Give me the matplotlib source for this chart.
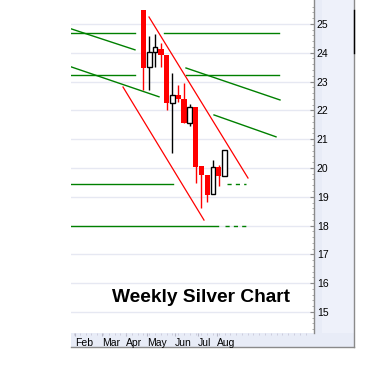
import matplotlib
matplotlib.use("Agg")
import matplotlib.pyplot as plt
from matplotlib.patches import Rectangle
import numpy as np

plt.rcParams['font.family'] = ['Liberation Sans', 'DejaVu Sans']

# ---- data (week index, prices) ----
weeks = list(range(15))
opens  = [25.49, 23.50, 24.03, 24.13, 23.92, 22.26, 22.53, 22.40, 21.56, 22.12, 20.07, 19.76, 19.10, 20.03, 19.72]
highs  = [25.49, 24.58, 24.65, 24.34, 23.92, 23.30, 22.88, 22.95, 22.22, 22.12, 20.07, 19.76, 20.28, 20.10, 20.63]
lows   = [22.71, 22.71, 23.50, 23.50, 22.01, 20.52, 22.30, 21.56, 21.46, 19.48, 18.61, 18.82, 19.10, 19.38, 19.72]
closes = [23.47, 24.03, 24.20, 23.92, 22.26, 22.53, 22.40, 21.56, 22.12, 20.03, 19.76, 19.06, 20.03, 19.72, 20.63]

month_labels = ["Feb", "Mar", "Apr", "May", "Jun", "Jul", "Aug"]
month_pos = [-11.83, -7.17, -3.02, 0.60, 5.44, 9.41, 12.69]
price_ticks = [15, 16, 17, 18, 19, 20, 21, 22, 23, 24, 25]

# horizontal support / resistance levels: (level, [(x0, x1), ...], style)
green_levels = [
    (24.69, [(-12.52, -1.47), (3.54, 23.4)], '-'),
    (23.23, [(-12.52, -1.47), (7.34, 23.4)], '-'),
    (19.44, [(-12.52, 5.09)], '-'),
    (19.44, [(14.42, 17.7)], '--'),
    (17.99, [(-12.52, 12.87)], '-'),
    (17.99, [(14.08, 17.88)], '--'),
]
# descending green trend lines: list of segments ((x0, p0), (x1, p1))
green_trends = [
    ((-12.52, 24.83), (-1.47, 24.10)),
    ((7.34, 23.47), (23.58, 22.36)),
    ((-12.52, 23.51), (2.68, 22.47)),
    ((12.18, 21.84), (22.89, 21.08)),
]
# red channel lines
red_channel = [
    ((0.95, 25.24), (18.05, 19.65)),
    ((-3.54, 22.81), (10.45, 18.19)),
]

W, H = 384, 369
fig = plt.figure(figsize=(W / 100, H / 100), dpi=100)
fig.patch.set_facecolor('white')

def fx(px): return px / W
def fy(py): return 1 - py / H

# background strips (right axis + bottom axis)
bg = '#E8ECF7'
fig.patches.append(Rectangle((fx(314), fy(347)), fx(354) - fx(314), fy(0) - fy(347),
                             transform=fig.transFigure, facecolor=bg, edgecolor='none', zorder=0))
fig.patches.append(Rectangle((fx(71), fy(347)), fx(354) - fx(71), fy(333) - fy(347),
                             transform=fig.transFigure, facecolor=bg, edgecolor='none', zorder=0))
fig.patches.append(Rectangle((fx(322), fy(333)), fx(354) - fx(322), fy(0) - fy(333),
                             transform=fig.transFigure, facecolor='#EEF1FA', edgecolor='none', zorder=0))
# outer border
fig.lines.append(plt.Line2D([fx(354), fx(354)], [fy(347), fy(0)], transform=fig.transFigure,
                            color='#8A8A8A', lw=1, zorder=0.5))
fig.lines.append(plt.Line2D([fx(71), fx(354)], [fy(347), fy(347)], transform=fig.transFigure,
                            color='#8A8A8A', lw=1, zorder=0.5))
fig.lines.append(plt.Line2D([fx(354), fx(354)], [fy(53), fy(10)], transform=fig.transFigure,
                            color='black', lw=1, zorder=0.6))

ax = fig.add_axes([fx(71), fy(333), fx(314) - fx(71), fy(0) - fy(333)])
ax.set_zorder(2)
ax.set_facecolor('white')
ax.set_xlim(-12.52, 29.45)
ax.set_ylim(14.27, 25.83)

for sp in ['top', 'left', 'bottom']:
    ax.spines[sp].set_visible(False)
ax.spines['right'].set_color('#8A8A8A')
ax.spines['right'].set_linewidth(1)

ax.yaxis.tick_right()
ax.set_yticks(price_ticks)
ax.set_yticklabels([str(t) for t in price_ticks])
ax.set_yticks(np.arange(14.4, 25.8, 0.2), minor=True)
ax.tick_params(axis='y', which='major', direction='in', length=3, color='#8A8A8A',
               labelsize=7.5, pad=2)
ax.tick_params(axis='y', which='minor', direction='in', length=1.5, color='#A0A0A0')

ax.set_xticks(month_pos)
ax.set_xticklabels(month_labels, ha='left')
ax.set_xticks(np.arange(-12, 29, 1.0), minor=True)
ax.tick_params(axis='x', which='major', length=2, color='#B8B8C8', labelsize=7.5, pad=1.5)
ax.tick_params(axis='x', which='minor', length=1.5, color='#C8C8D8')

# gridlines
for t in price_ticks:
    ax.axhline(t, color='#E6E8F2', lw=1, zorder=0.5)

# green levels
for lvl, segs, ls in green_levels:
    for x0, x1 in segs:
        ax.plot([x0, x1], [lvl, lvl], color='#008000', lw=1,
                ls=(0, (3, 3)) if ls == '--' else '-', zorder=2)
for (x0, p0), (x1, p1) in green_trends:
    ax.plot([x0, x1], [p0, p1], color='#008000', lw=1, zorder=2)
for (x0, p0), (x1, p1) in red_channel:
    ax.plot([x0, x1], [p0, p1], color='#FF0000', lw=0.9, zorder=2)

# candles
bw = 0.92
for x, o, h, l, c in zip(weeks, opens, highs, lows, closes):
    up = c >= o
    col = 'black' if up else '#FF0000'
    ax.vlines(x, l, h, color=col, lw=1, zorder=3)
    lo, hi = min(o, c), max(o, c)
    if up:
        ax.bar(x, hi - lo, bottom=lo, width=bw * 0.9, facecolor='white', edgecolor='black',
               lw=1, zorder=4)
    else:
        ax.bar(x, hi - lo, bottom=lo, width=bw, facecolor='#FF0000', edgecolor='none', zorder=4)

ax.text(0.535, 0.093, "Weekly Silver Chart", transform=ax.transAxes, ha='center',
        va='baseline', fontsize=13.8, fontweight='bold', color='black')

fig.savefig('out.png', dpi=100, facecolor='white')
